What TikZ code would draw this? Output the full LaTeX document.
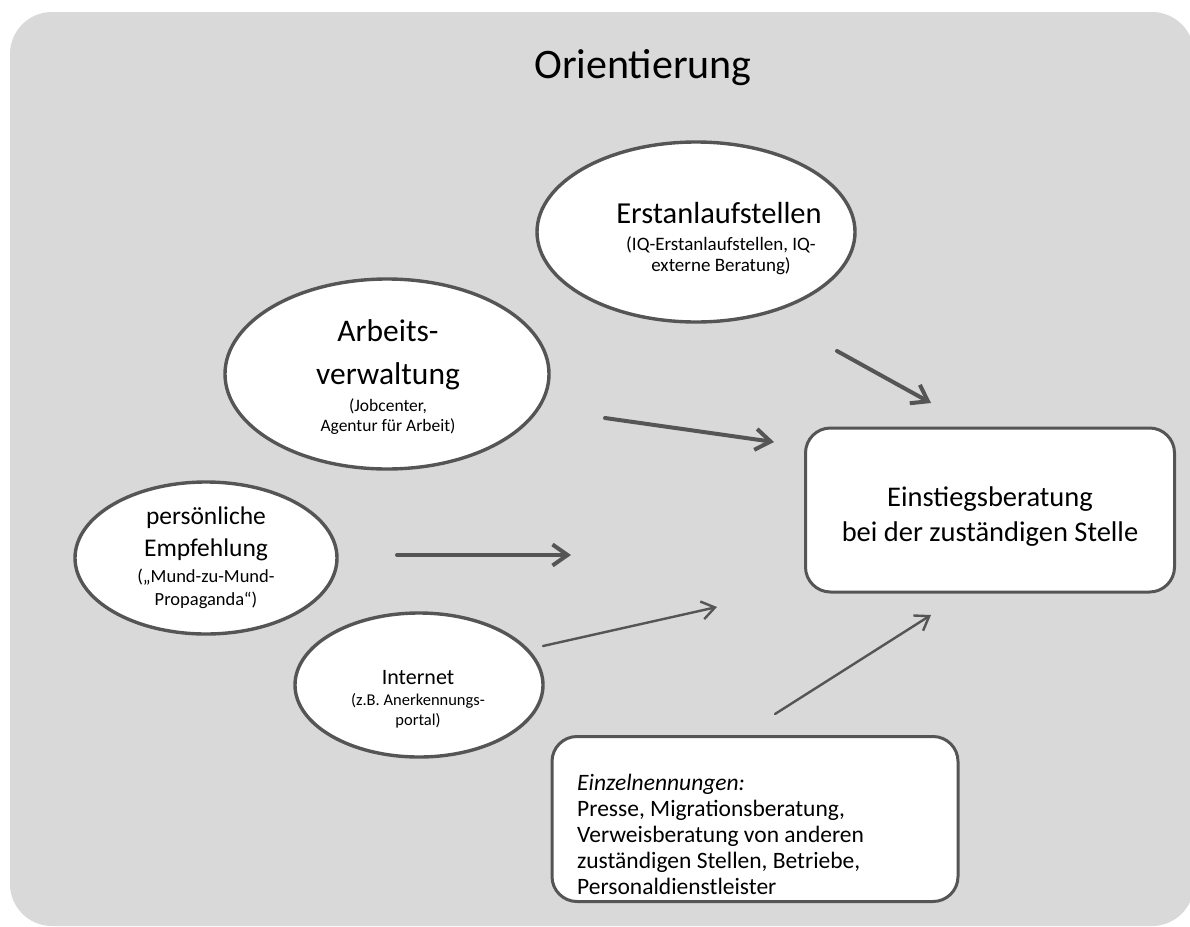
\documentclass[tikz,border=0pt]{standalone}
\usepackage{fontspec}
\setmainfont{Carlito}
\usetikzlibrary{shapes.geometric,arrows.meta}
\definecolor{bg}{HTML}{D9D9D9}
\definecolor{edge}{HTML}{555555}
\newcommand\setfs[2]{\fontsize{#1}{#2}\selectfont}
\begin{document}
\begin{tikzpicture}[x=1pt,y=-1pt,
  oval/.style={ellipse, draw=edge, line width=3.4pt, fill=white, inner sep=0pt},
  panel/.style={draw=edge, line width=3pt, fill=white, rounded corners=25pt, inner sep=0pt},
  label/.style={inner sep=0pt, align=center},
  bigarrow/.style={draw=edge, line width=4pt, line cap=round, -{Straight Barb[length=15pt,width=21pt,line width=4pt]}},
  thinarrow/.style={draw=edge, line width=2.4pt, line cap=round, -{Straight Barb[length=13pt,width=18pt,line width=2.4pt]}}
]
\useasboundingbox (0,0) rectangle (1190,926);
\fill[bg, rounded corners=42pt] (10,12) rectangle (1194,926);

\node[label, font=\setfs{42}{50}] (title) at (643,68) {Orientierung};

% Erstanlaufstellen
\node[oval, minimum width=318pt, minimum height=180pt] (erst) at (696,232) {};
\node[label, font=\setfs{30.5}{36}] (erstmain) at (719,213) {Erstanlaufstellen};
\node[label, font=\setfs{19}{21}] (erstsub) at (721,256) {(IQ-Erstanlaufstellen, IQ-\\externe Beratung)};

% Arbeitsverwaltung
\node[oval, minimum width=324pt, minimum height=190pt] (arb) at (387,374) {};
\node[label, font=\setfs{31.5}{43}] (arbmain) at (388,355) {Arbeits-\\verwaltung};
\node[label, font=\setfs{17.5}{20}] (arbsub) at (388,417) {(Jobcenter,\\Agentur für Arbeit)};

% persoenliche Empfehlung
\node[oval, minimum width=262pt, minimum height=152pt] (emp) at (206,558) {};
\node[label, font=\setfs{25.5}{32}] (empmain) at (206,534) {persönliche\\Empfehlung};
\node[label, font=\setfs{18.5}{23}] (empsub) at (206,589) {(„Mund-zu-Mund-\\Propaganda“)};

% Internet
\node[oval, minimum width=248pt, minimum height=144pt] (int) at (419,685) {};
\node[label, font=\setfs{22}{26}] (intmain) at (418,678) {Internet};
\node[label, font=\setfs{16.5}{20}] (intsub) at (418,711) {(z.B. Anerkennungs-\\portal)};

% Einstiegsberatung
\node[panel, minimum width=369pt, minimum height=164pt] (ein) at (990,510) {};
\node[label, font=\setfs{28.5}{35}] (eintext) at (990,517) {Einstiegsberatung\\bei der zuständigen Stelle};

% Einzelnennungen
\node[panel, minimum width=406pt, minimum height=165pt] (einz) at (755,819) {};
\node[anchor=north west, inner sep=0pt, align=left, font=\setfs{23.5}{26}] (einztext) at (577,774)
  {\textit{Einzelnennungen:}\\Presse, Migrationsberatung,\\Verweisberatung von anderen\\zuständigen Stellen, Betriebe,\\Personaldienstleister};

\coordinate (a1s) at (837,351); \coordinate (a1e) at (931,403);
\coordinate (a2s) at (605,418); \coordinate (a2e) at (774,442);
\coordinate (a3s) at (397,555); \coordinate (a3e) at (571,555);
\coordinate (a4s) at (543,646); \coordinate (a4e) at (717,607);
\coordinate (a5s) at (775,714); \coordinate (a5e) at (931,615);

\draw[bigarrow] (a1s) -- (a1e);
\draw[bigarrow] (a2s) -- (a2e);
\draw[bigarrow] (a3s) -- (a3e);
\draw[thinarrow] (a4s) -- (a4e);
\draw[thinarrow] (a5s) -- (a5e);
\end{tikzpicture}
\end{document}
